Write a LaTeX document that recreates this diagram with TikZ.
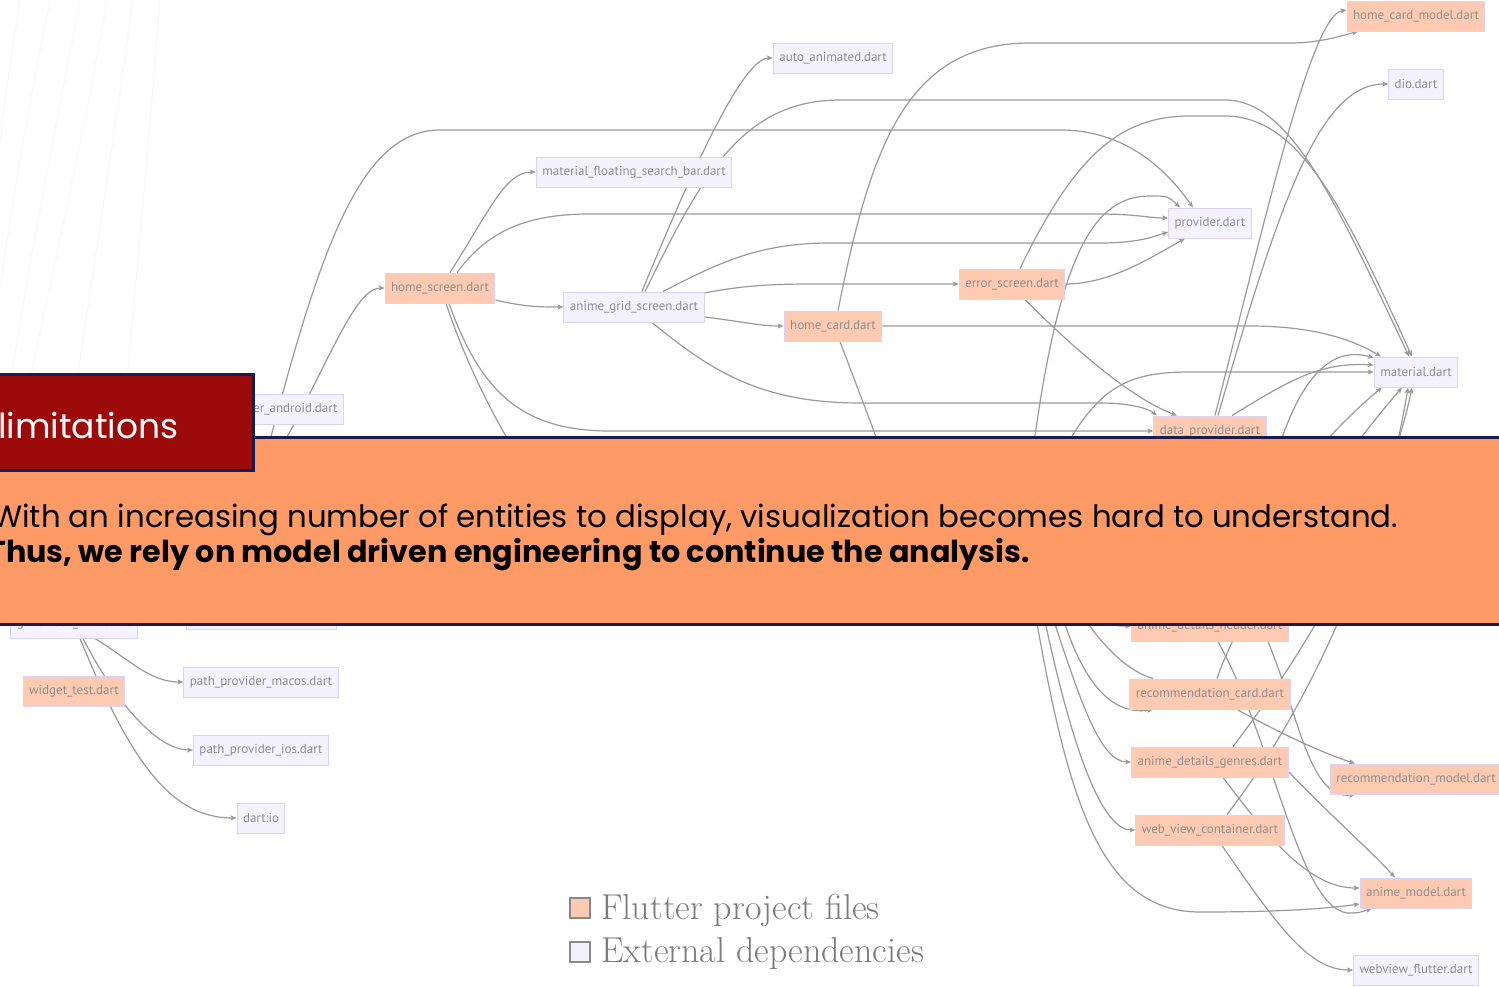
\documentclass[tikz,border=0pt]{standalone}
\usepackage{fontspec}
\usetikzlibrary{arrows.meta,calc}
\newfontfamily\nodefont{PT Sans}
\newfontfamily\bandfont{Poppins}
\definecolor{pinkfill}{HTML}{FECBB2}
\definecolor{lavfill}{HTML}{F3F2FE}
\definecolor{nodeborder}{HTML}{DCD1F7}
\definecolor{nodetext}{HTML}{8E8E8E}
\definecolor{edgegray}{HTML}{9A9A9A}
\definecolor{bandorange}{HTML}{FE9A66}
\definecolor{navyline}{HTML}{1C1B4D}
\definecolor{darkred}{HTML}{9C0A0A}
\definecolor{decor}{HTML}{F7F7F7}
\definecolor{legtext}{HTML}{7C7C7C}
\definecolor{legborder}{HTML}{8A8A8A}
\pgfdeclarelayer{edgelayer}
\pgfsetlayers{edgelayer,main}
\begin{document}
\begin{tikzpicture}[x=1pt,y=-1pt,
  basenode/.style={draw=nodeborder, line width=1pt, text=nodetext,
    font=\nodefont\fontsize{13}{15}\selectfont, minimum height=30pt,
    inner xsep=6pt, inner ysep=0pt},
  pnode/.style={basenode, fill=pinkfill},
  lnode/.style={basenode, fill=lavfill},
  edge/.style={draw=edgegray, line width=1.2pt, -{Stealth[length=6pt,width=5pt,inset=1.5pt]}},
  plainline/.style={draw=edgegray, line width=1.2pt},
  legbox/.style={draw=legborder, line width=1.5pt, minimum size=20pt, inner sep=0pt},
  legtxt/.style={anchor=base west, inner sep=0pt, text=legtext, font=\fontsize{36}{39}\selectfont}]
\useasboundingbox (0,0) rectangle (1499,986);
\clip (0,0) rectangle (1499,986);

% ---------- nodes ----------
\node[pnode] (hcm) at (1416,16) {home\_card\_model.dart};
\node[lnode] (dio) at (1416,84) {dio.dart};
\node[lnode] (aa) at (833,58) {auto\_animated.dart};
\node[lnode] (mfsb) at (634,172) {material\_floating\_search\_bar.dart};
\node[lnode] (prov) at (1210,223) {provider.dart};
\node[pnode] (hs) at (440,288) {home\_screen.dart};
\node[lnode] (ags) at (634,307) {anime\_grid\_screen.dart};
\node[pnode] (es) at (1012,284) {error\_screen.dart};
\node[pnode] (hc) at (833,326) {home\_card.dart};
\node[lnode] (mat) at (1416,372) {material.dart};
\node[lnode, anchor=east] (ppa) at (344,409) {path\_provider\_android.dart};
\node[pnode] (dp) at (1210,431) {data\_provider.dart};
\node[lnode] (gm) at (74,623) {generated\_main.dart};
\node[lnode, minimum width=150pt] (hid) at (261,614) {};
\node[pnode] (wt) at (74,691) {widget\_test.dart};
\node[lnode] (ppm) at (261,682) {path\_provider\_macos.dart};
\node[lnode] (ppi) at (261,750) {path\_provider\_ios.dart};
\node[lnode] (dartio) at (261,818) {dart:io};
\node[pnode] (adh) at (1210,626) {anime\_details\_header.dart};
\node[pnode] (rc) at (1210,694) {recommendation\_card.dart};
\node[pnode] (adg) at (1210,762) {anime\_details\_genres.dart};
\node[pnode] (wvc) at (1210,830) {web\_view\_container.dart};
\node[pnode] (rm) at (1416,779) {recommendation\_model.dart};
\node[pnode] (am) at (1416,893) {anime\_model.dart};
\node[lnode] (wf) at (1416,970) {webview\_flutter.dart};

% free ends hidden behind the band
\coordinate (srcA) at (281,448);
\coordinate (srcB) at (268,448);
\coordinate (sinkA) at (514,450);
\coordinate (sinkB) at (881,450);
\coordinate (srcC) at (1033,450);
\coordinate (srcD) at (1064,450);
\coordinate (srcE) at (1278,450);
\coordinate (srcF) at (1035,612);
\coordinate (srcG) at (1043,612);
\coordinate (srcH) at (1051,612);
\coordinate (srcI) at (1061,612);
\coordinate (srcJ) at (1080,612);
\coordinate (srcK) at (1100,600);

\begin{pgfonlayer}{edgelayer}
\fill[white] (0,0) rectangle (1499,986);
% faint decorative background curves
\begin{scope}[draw=decor, line width=1pt]
\draw (20,0) .. controls (12,50) and (5,100) .. (0,143);
\draw (50,0) .. controls (30,100) and (12,200) .. (0,290);
\draw (80,0) .. controls (55,130) and (25,280) .. (5,420);
\draw (107,0) .. controls (85,130) and (55,260) .. (30,380);
\draw (133,0) .. controls (115,130) and (95,260) .. (77,380);
\draw (160,0) .. controls (150,130) and (138,260) .. (127,380);
\end{scope}

% top-left sources
\draw[edge] (srcA) .. controls (330,360) and (355,288) .. (hs.west);
\draw[edge] (srcB) .. controls (320,250) and (360,130) .. (440,130) -- (1060,130)
  .. controls (1130,130) and (1170,175) .. ([xshift=-17pt]prov.north);

% home_screen
\draw[edge] ([xshift=10pt]hs.north) .. controls (490,210) and (505,172) .. (mfsb.west);
\draw[edge] ([xshift=17pt]hs.north) .. controls (485,235) and (520,214) .. (590,214) -- (1100,214)
  .. controls (1135,214) and (1150,218) .. ([yshift=5pt]prov.west);
\draw[edge] ([yshift=-12pt]hs.east) .. controls (525,307) and (540,307) .. (ags.west);
\draw[plainline] ([xshift=6pt]hs.south) .. controls (465,360) and (490,410) .. (sinkA);
\draw[edge] ([xshift=9pt]hs.south) .. controls (480,390) and (520,431) .. (610,431) -- (dp.west);

% anime_grid_screen
\draw[edge] ([xshift=8pt]ags.north) .. controls (700,150) and (745,58) .. (aa.west);
\draw[edge] ([xshift=11pt]ags.north) .. controls (700,180) and (740,100) .. (840,100) -- (1225,100)
  .. controls (1290,100) and (1335,200) .. ([xshift=-7pt]mat.north);
\draw[edge] ([xshift=29pt]ags.north) .. controls (720,262) and (760,243) .. (830,243) -- (1100,243)
  .. controls (1140,243) and (1155,236) .. ([yshift=-9pt]prov.west);
\draw[edge] ([yshift=14pt]ags.east) .. controls (740,286) and (770,284) .. (810,284) -- (es.west);
\draw[edge] ([yshift=-10pt]ags.east) .. controls (745,322) and (760,326) .. (hc.west);
\draw[edge] ([xshift=18pt]ags.south) .. controls (710,370) and (760,403) .. (860,403) -- (1100,403)
  .. controls (1135,403) and (1150,410) .. ([xshift=-53pt]dp.north);

% home_card
\draw[edge] ([xshift=5pt]hc.north) .. controls (870,150) and (905,43) .. (1030,43) -- (1290,43)
  .. controls (1320,43) and (1340,36) .. ([xshift=-58pt]hcm.south);
\draw[edge] (hc.east) -- (1250,326) .. controls (1310,326) and (1350,338) .. ([xshift=-35pt]mat.north);
\draw[plainline] ([xshift=7pt]hc.south) -- (sinkB);

% error_screen
\draw[edge] ([xshift=8pt]es.north) .. controls (1075,155) and (1120,116) .. (1190,116) -- (1225,116)
  .. controls (1300,116) and (1345,210) .. ([xshift=-4pt]mat.north);
\draw[edge] (es.east) .. controls (1110,284) and (1150,258) .. ([xshift=-25pt]prov.south);
\draw[edge] ([xshift=13pt]es.south) .. controls (1070,345) and (1130,398) .. ([xshift=-33pt]dp.north);

% from below the band (upper part)
\draw[edge] (srcC) .. controls (1060,250) and (1095,196) .. (1150,196)
  .. controls (1168,196) .. ([xshift=-30pt]prov.north);
\draw[edge] (srcD) .. controls (1100,385) and (1130,372) .. (1190,372) -- (mat.west);
\draw[edge] (srcE) .. controls (1300,380) and (1330,345) .. ([yshift=14pt]mat.west);

% data_provider
\draw[edge] ([xshift=5pt]dp.north) .. controls (1270,200) and (1312,15) .. ([yshift=6pt]hcm.west);
\draw[edge] ([xshift=8pt]dp.north) .. controls (1280,200) and (1320,84) .. (dio.west);
\draw[edge] ([xshift=22pt]dp.north) .. controls (1290,380) and (1320,362) .. ([yshift=7pt]mat.west);

% lower files to material.dart
\draw[edge] (adh.north) .. controls (1250,520) and (1330,430) .. ([xshift=-34pt]mat.south);
\draw[edge] ([xshift=7pt]rc.north) .. controls (1240,610) and (1330,470) .. ([xshift=-14pt]mat.south);
\draw[edge] ([xshift=23pt]adg.north) .. controls (1345,600) and (1395,470) .. ([xshift=-4pt]mat.south);
\draw[edge] ([xshift=17pt]wvc.north) .. controls (1300,720) and (1380,560) .. ([xshift=-8pt]mat.south);

% generated_main
\draw[edge] ([xshift=21pt]gm.south) .. controls (130,660) and (150,682) .. (ppm.west);
\draw[edge] ([xshift=9pt]gm.south) .. controls (120,710) and (160,750) .. (ppi.west);
\draw[edge] ([xshift=6pt]gm.south) .. controls (130,760) and (170,818) .. (dartio.west);

% lower right, from below the band
\draw[edge] (srcF) .. controls (1068,800) and (1100,912) .. (1200,912)
  .. controls (1290,912) and (1330,908) .. ([yshift=-11pt]am.west);
\draw[edge] (srcG) .. controls (1070,740) and (1100,830) .. (wvc.west);
\draw[edge] (srcH) .. controls (1080,700) and (1100,762) .. (adg.west);
\draw[edge] (srcI) .. controls (1085,690) and (1115,715) .. ([xshift=-57pt]rc.south);
\draw[plainline] (srcJ) .. controls (1105,650) and (1130,672) .. ([xshift=-57pt]rc.north);
\draw[edge] (srcK) .. controls (1110,626) .. (adh.west);

% lower right cluster
\draw[edge] ([xshift=27pt]rc.south) .. controls (1280,733) and (1320,752) .. ([xshift=-61pt]rm.north);
\draw[edge] ([xshift=8pt]adh.south) .. controls (1275,745) and (1298,905) .. (1347,913)
  .. controls (1358,913) .. ([xshift=-44pt]am.south);
\draw[edge] ([xshift=58pt]adh.south) .. controls (1300,720) and (1310,800) .. ([xshift=-61pt]rm.south);
\draw[edge] ([yshift=-10pt]adg.east) .. controls (1330,815) and (1370,850) .. ([xshift=-21pt]am.north);
\draw[edge] ([xshift=13pt]adg.south) .. controls (1270,840) and (1310,888) .. ([yshift=5pt]am.west);
\draw[edge] ([xshift=12pt]wvc.south) .. controls (1280,930) and (1310,970) .. (wf.west);
\end{pgfonlayer}

% ---------- overlay band ----------
\fill[bandorange] (0,437) rectangle (1499,624);
\draw[navyline, line width=3pt] (0,437) -- (1499,437);
\draw[navyline, line width=3pt] (0,624) -- (1499,624);
\filldraw[fill=darkred, draw=navyline, line width=3pt] (-5,374) rectangle (253,470);
\node[anchor=base west, inner sep=0pt, text=white, font=\bandfont\fontsize{34.5}{38}\selectfont]
  (ttl) at (-2,438) {limitations};
\node[anchor=base west, inner sep=0pt, text=black, font=\bandfont\fontsize{30.8}{34}\selectfont]
  (l1) at (-8,527) {With an increasing number of entities to display, visualization becomes hard to understand.};
\node[anchor=base west, inner sep=0pt, text=black, font=\bandfont\bfseries\fontsize{30.2}{34}\selectfont]
  (l2) at (-12,562) {Thus, we rely on model driven engineering to continue the analysis.};

% ---------- legend ----------
\node[legbox, fill=pinkfill] (lg1) at (580,908) {};
\node[legbox, fill=lavfill] (lg2) at (580,952) {};
\node[legtxt] (lt1) at (601,919) {Flutter project files};
\node[legtxt] (lt2) at (601,962) {External dependencies};
\end{tikzpicture}
\end{document}
